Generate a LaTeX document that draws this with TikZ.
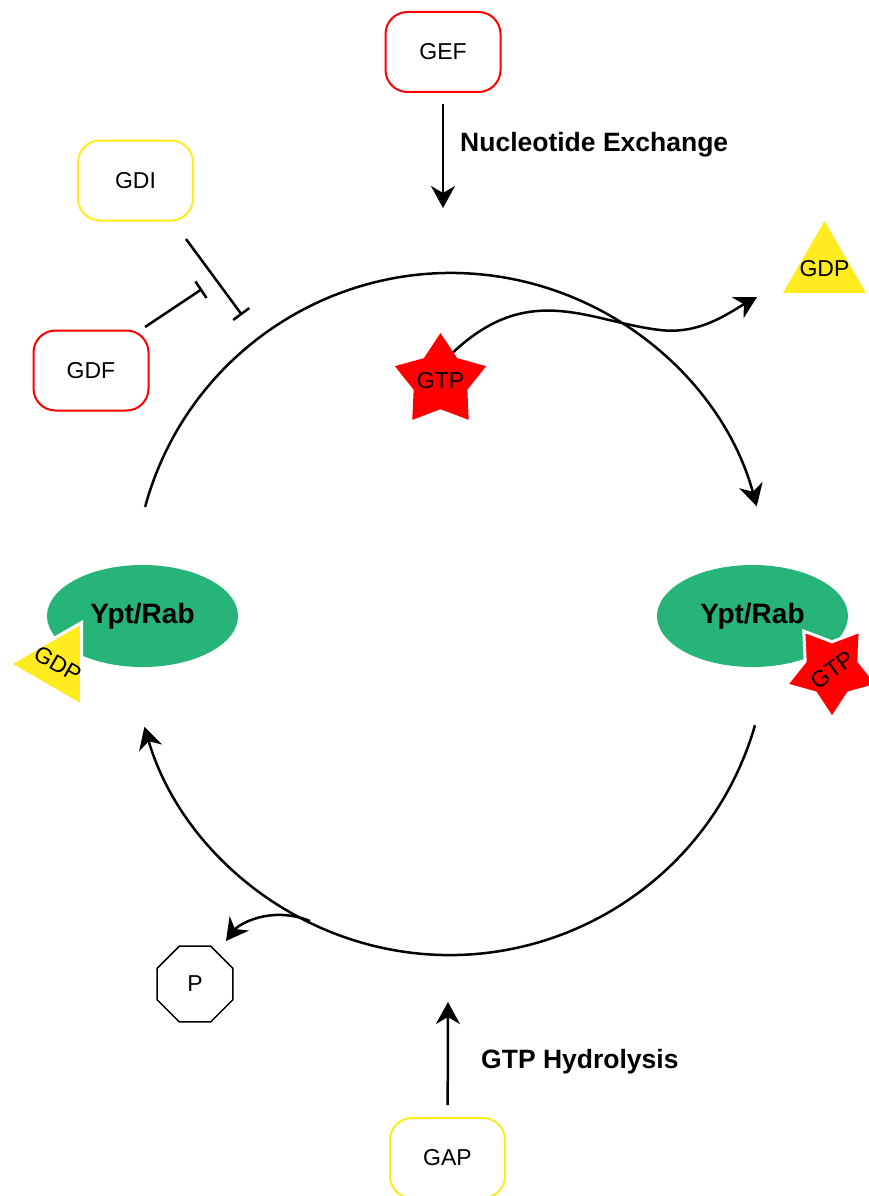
\documentclass[tikz,border=0pt]{standalone}
\usepackage{fontspec}
\setmainfont{Liberation Sans}
\usetikzlibrary{shapes, arrows.meta, positioning}

\definecolor{rabgreen}{RGB}{38,180,120}
\definecolor{gdpyellow}{RGB}{255,235,30}

\begin{document}
\begin{tikzpicture}[x=1pt, y=-1pt,
    regbox/.style={draw, line width=2pt, rounded corners=22pt, minimum width=115pt, minimum height=80pt, font=\fontsize{23}{27}\selectfont},
    rab/.style={ellipse, fill=rabgreen, minimum width=191pt, minimum height=102pt, font=\bfseries\fontsize{28}{32}\selectfont},
    gtpstar/.style={star, star points=5, star point ratio=1.7, minimum size=96pt, inner sep=0pt, fill=red},
    gdptri/.style={regular polygon, regular polygon sides=3, minimum size=96pt, inner sep=0pt, fill=gdpyellow},
    nuctext/.style={font=\fontsize{23}{27}\selectfont},
    flow/.style={line width=2.5pt, -{Stealth[length=22pt, width=24pt, inset=7pt]}},
    inhibit/.style={line width=2.5pt, -{Bar[width=20pt]}},
    steplabel/.style={anchor=west, inner sep=0pt, font=\bfseries\fontsize{26.5}{30}\selectfont}]
    \useasboundingbox (0,0) rectangle (869,1196);

    % Regulators
    \node[regbox, draw=red] (gef) at (443,52) {GEF};
    \node[regbox, draw=gdpyellow] (gdi) at (135.5,180.5) {GDI};
    \node[regbox, draw=red] (gdf) at (91,370.5) {GDF};
    \node[regbox, draw=gdpyellow] (gap) at (447.5,1158) {GAP};

    % Nucleotide exchange and hydrolysis
    \coordinate (gefTip) at (443,208);
    \coordinate (gapTip) at (448,1002);
    \draw[flow, shorten <=11pt] (gef) -- (gefTip);
    \draw[flow, shorten <=12pt] (gap) -- (gapTip);
    \node[steplabel] (exchLabel) at (460,145) {Nucleotide Exchange};
    \node[steplabel] (hydLabel) at (481,1062) {GTP Hydrolysis};

    % Inhibitors
    \coordinate (gdiFrom) at (186,239);
    \coordinate (gdiTo) at (242,315);
    \coordinate (gdfFrom) at (145,327);
    \coordinate (gdfTo) at (202,289);
    \draw[inhibit] (gdiFrom) -- (gdiTo);
    \draw[inhibit] (gdfFrom) -- (gdfTo);

    % Cycle
    \coordinate (upStart) at (145.1,506.9);
    \coordinate (downStart) at (755.0,725.2);
    \draw[flow] (upStart) arc[start angle=-164.8, end angle=-15.3, radius=317];
    \draw[flow] (downStart) arc[start angle=16.1, end angle=163.6, radius=318];

    % Ypt/Rab states
    \node[rab] (rabGdp) at (142.5,616) {Ypt/Rab};
    \node[rab] (rabGtp) at (752.5,616) {Ypt/Rab};
    \node[gdptri, draw=white, line width=3pt, rotate=-30,
          label={[nuctext, rotate=-30]center:GDP}] (boundGdp) at (57.7,664) {};
    \node[gtpstar, draw=white, line width=3pt, rotate=36,
          label={[nuctext, rotate=36]center:GTP}] (boundGtp) at (832,670) {};

    % Exchanged nucleotides
    \node[gtpstar, label={[nuctext]center:GTP}] (freeGtp) at (440.5,381) {};
    \node[gdptri, label={[nuctext]center:GDP}] (freeGdp) at (824.5,269) {};
    \coordinate (gdpTip) at (757,297);
    \draw[flow] (freeGtp.66) .. controls (530,280) and (590,322) .. (660,330)
        .. controls (700,335) and (730,312) .. (gdpTip);

    % Phosphate
    \node[regular polygon, regular polygon sides=8, minimum size=82pt, inner sep=0pt, draw, line width=1.5pt,
          nuctext] (pi) at (195,984) {P};
    \coordinate (piFrom) at (310,921);
    \coordinate (piTip) at (226,941);
    \draw[flow] (piFrom) .. controls (270,905) and (238,925) .. (piTip);

\end{tikzpicture}
\end{document}
